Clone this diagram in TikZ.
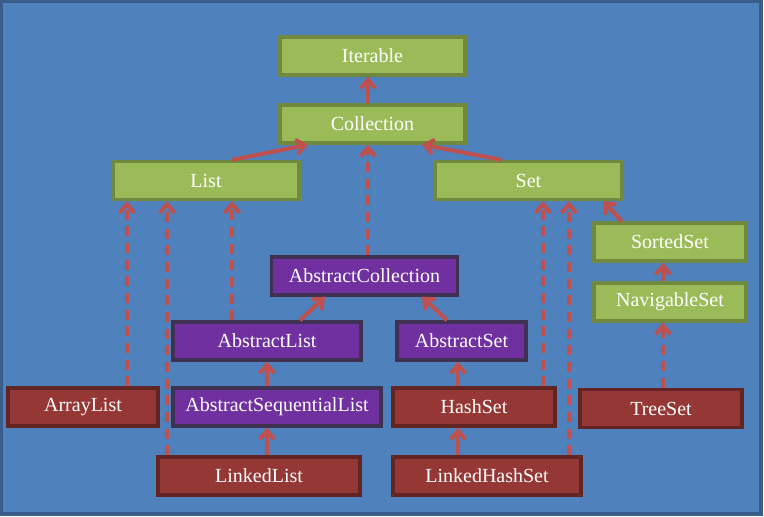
\documentclass[tikz,border=0pt]{standalone}
\usepackage{fontspec}
\setmainfont{Liberation Serif}
\usetikzlibrary{arrows.meta}
\definecolor{bg}{HTML}{4F81BD}
\definecolor{bgline}{HTML}{385D8A}
\definecolor{gfill}{HTML}{9BBB59}
\definecolor{gline}{HTML}{71893F}
\definecolor{pfill}{HTML}{7030A0}
\definecolor{pline}{HTML}{3F3151}
\definecolor{rfill}{HTML}{953735}
\definecolor{rline}{HTML}{632523}
\definecolor{arr}{HTML}{C0504D}
\tikzset{
  box/.style={draw, line width=2.4pt, minimum height=28.5pt, inner sep=0pt, text=white,
    font=\fontsize{15pt}{16pt}\selectfont},
  gbox/.style={box, fill=gfill, draw=gline},
  pbox/.style={box, fill=pfill, draw=pline},
  rbox/.style={box, fill=rfill, draw=rline},
  inh/.style={draw=arr, line width=3pt, -{Straight Barb[length=6.5pt,width=11pt]}},
  impl/.style={inh, dash pattern=on 7.5pt off 5pt},
}
\begin{document}
\begin{tikzpicture}[x=0.75pt,y=-0.75pt]
\useasboundingbox (0,0) rectangle (764,517);
\fill[white] (0,0) rectangle (764,517);
\draw[fill=bg, draw=bgline, line width=2.5pt] (1.5,1.5) rectangle (761,514);

\node[gbox, minimum width=138.75pt] (iterable) at (372.5,56) {Iterable};
\node[gbox, minimum width=138.75pt] (collection) at (372.5,124) {Collection};
\node[gbox, minimum width=139.5pt] (list) at (206,180.5) {List};
\node[gbox, minimum width=140pt] (set) at (528.5,180.5) {Set};
\node[gbox, minimum width=114pt] (sortedset) at (670,242) {SortedSet};
\node[gbox, minimum width=114pt] (navset) at (670,302) {NavigableSet};
\node[pbox, minimum width=140pt] (abscoll) at (364.5,276) {AbstractCollection};
\node[pbox, minimum width=141pt] (abslist) at (267,341) {AbstractList};
\node[pbox, minimum width=96.75pt] (absset) at (461.5,341) {AbstractSet};
\node[rbox, minimum width=112.5pt] (arraylist) at (83,407) {ArrayList};
\node[pbox, minimum width=156pt] (absseq) at (277,407) {AbstractSequentialList};
\node[rbox, minimum width=121.5pt] (hashset) at (474,407) {HashSet};
\node[rbox, minimum width=121.5pt] (treeset) at (661,408.5) {TreeSet};
\node[rbox, minimum width=151.5pt] (linkedlist) at (259,476) {LinkedList};
\node[rbox, minimum width=141pt] (linkedhashset) at (487,476) {LinkedHashSet};

\draw[inh] (collection.north -| 368,0) -- (iterable.south -| 368,0);
\draw[inh] (list.north -| 232,0) -- (collection.south -| 308,0);
\draw[inh] (set.north -| 502,0) -- (collection.south -| 422,0);
\draw[impl] (abscoll.north -| 368,0) -- (collection.south -| 368,0);
\draw[impl] (arraylist.north -| 127,0) -- (list.south -| 127,0);
\draw[impl] (linkedlist.north -| 167,0) -- (list.south -| 167,0);
\draw[impl] (abslist.north -| 232,0) -- (list.south -| 232,0);
\draw[inh] (abslist.north -| 300,0) -- (abscoll.south -| 325,0);
\draw[inh] (absseq.north -| 267,0) -- (abslist.south -| 267,0);
\draw[inh] (linkedlist.north -| 267,0) -- (absseq.south -| 267,0);
\draw[inh] (absset.north -| 447,0) -- (abscoll.south -| 422,0);
\draw[inh] (hashset.north -| 458,0) -- (absset.south -| 458,0);
\draw[inh] (linkedhashset.north -| 458,0) -- (hashset.south -| 458,0);
\draw[impl] (hashset.north -| 543,0) -- (set.south -| 543,0);
\draw[impl] (linkedhashset.north -| 569,0) -- (set.south -| 569,0);
\draw[inh] (sortedset.north -| 622,0) -- (set.south -| 603,0);
\draw[inh] (navset.north -| 663,0) -- (sortedset.south -| 663,0);
\draw[impl] (treeset.north -| 663,0) -- (navset.south -| 663,0);
\end{tikzpicture}
\end{document}
